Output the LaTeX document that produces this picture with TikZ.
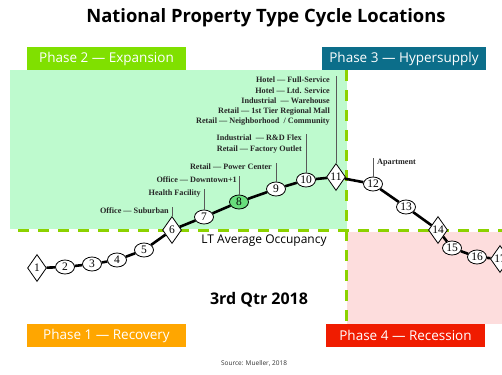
\documentclass[tikz,border=0pt]{standalone}
\usepackage{fontspec}
\setmainfont{Liberation Serif}
\setsansfont{Open Sans}
\usetikzlibrary{shapes.geometric}

\definecolor{expgreen}{RGB}{128,224,0}
\definecolor{hypteal}{RGB}{12,110,138}
\definecolor{recorange}{RGB}{255,166,0}
\definecolor{recred}{RGB}{240,28,0}
\definecolor{expfill}{RGB}{190,250,206}
\definecolor{recfill}{RGB}{253,221,221}
\definecolor{dashgreen}{RGB}{140,210,0}
\definecolor{nowgreen}{RGB}{104,222,124}

\begin{document}
\begin{tikzpicture}[x=1pt,y=-1pt,
    phasebox/.style={fill=#1, text=white, font=\sffamily\fontsize{13.5}{14}\selectfont,
      minimum width=159pt, minimum height=23pt, inner sep=0pt},
    cyclept/.style={ellipse, draw, fill=white, line width=0.8pt, minimum width=19pt,
      minimum height=14pt, inner sep=0pt, font=\fontsize{11.5}{11.5}\selectfont},
    turnpt/.style={diamond, draw, fill=white, line width=0.8pt, minimum width=19pt,
      minimum height=27pt, inner sep=0pt, font=\fontsize{11.5}{11.5}\selectfont},
    lbl/.style={font=\bfseries\fontsize{8.2}{10.2}\selectfont, text=black!85, inner sep=1pt, align=right},
    leader/.style={draw=black!65, line width=0.6pt},
    occline/.style={draw=dashgreen, line width=3pt, dash pattern=on 11pt off 9pt}
  ]
    \useasboundingbox (0,0) rectangle (502,374);

    % quadrants
    \fill[expfill] (10,70) rectangle (347,229);
    \fill[recfill] (347,232) rectangle (502,324);
    \draw[occline] (18,230) -- (502,230);
    \draw[occline] (346,70) -- (346,324);

    \node[font=\sffamily\bfseries\fontsize{18.4}{22}\selectfont] (title) at (266,18) {National Property Type Cycle Locations};

    \node[phasebox=expgreen] (ph2) at (106.5,58.5) {Phase 2 — Expansion};
    \node[phasebox=hypteal, minimum width=164pt] (ph3) at (404,58.5) {Phase 3 — Hypersupply};
    \node[phasebox=recorange] (ph1) at (106.5,335.5) {Phase 1 — Recovery};
    \node[phasebox=recred] (ph4) at (405.5,335.5) {Phase 4 — Recession};

    \node[font=\sffamily\fontsize{12}{14}\selectfont] (occ) at (264,241) {LT Average Occupancy};
    \node[font=\sffamily\bfseries\fontsize{16}{19}\selectfont] (qtr) at (259,300) {3rd Qtr 2018};
    \node[font=\sffamily\fontsize{6.5}{8}\selectfont, text=black!80] (src) at (254,363) {Source: Mueller, 2018};

    % cycle points
    \node[turnpt] (n1) at (37,268) {1};
    \node[cyclept] (n2) at (65,267) {2};
    \node[cyclept] (n3) at (92,264) {3};
    \node[cyclept] (n4) at (117,260) {4};
    \node[cyclept] (n5) at (144,250) {5};
    \node[turnpt] (n6) at (172,230) {6};
    \node[cyclept] (n7) at (204,217) {7};
    \node[cyclept, fill=nowgreen] (n8) at (239,202) {8};
    \node[cyclept] (n9) at (276,189) {9};
    \node[cyclept] (n10) at (306,180) {10};
    \node[turnpt] (n11) at (336,177) {11};
    \node[cyclept] (n12) at (373,184) {12};
    \node[cyclept] (n13) at (406,207) {13};
    \node[turnpt] (n14) at (438,230) {14};
    \node[cyclept] (n15) at (452,248) {15};
    \node[cyclept] (n16) at (477,257) {16};
    \node[turnpt] (n17) at (500,259) {17};

    \draw[line width=2.6pt] (n1) -- (n2) -- (n3) -- (n4) -- (n5) -- (n6) -- (n7) -- (n8) -- (n9)
      -- (n10) -- (n11) -- (n12) -- (n13) -- (n14) -- (n15) -- (n16) -- (n17);

    % property types
    \node[lbl, anchor=east] (l6) at (170,211) {Office — Suburban};
    \node[lbl, anchor=east] (l7) at (202,194) {Health Facility};
    \node[lbl, anchor=east] (l8) at (238,180) {Office — Downtown+1};
    \node[lbl, anchor=east] (l9) at (273,167) {Retail — Power Center};
    \node[lbl, anchor=north east] (l10) at (303,134) {Industrial \ — R\&D Flex\\Retail — Factory Outlet};
    \node[lbl, anchor=north east] (l11) at (331,76) {Hotel — Full-Service\\Hotel — Ltd. Service\\Industrial \ — Warehouse\\Retail — 1st Tier Regional Mall\\Retail — Neighborhood \ / Community};
    \node[lbl, anchor=west] (l12) at (376,163) {Apartment};

    \draw[leader] (n6.north) -- (n6.north |- l6.north);
    \draw[leader] (n7.north) -- (n7.north |- l7.north);
    \draw[leader] (n8.north) -- (n8.north |- l8.north);
    \draw[leader] (n9.north) -- (n9.north |- l9.north);
    \draw[leader] (n10.north) -- (n10.north |- l10.north);
    \draw[leader] (n11.north) -- (n11.north |- l11.north);
    \draw[leader] (n12.north) -- (n12.north |- l12.north);
\end{tikzpicture}
\end{document}
